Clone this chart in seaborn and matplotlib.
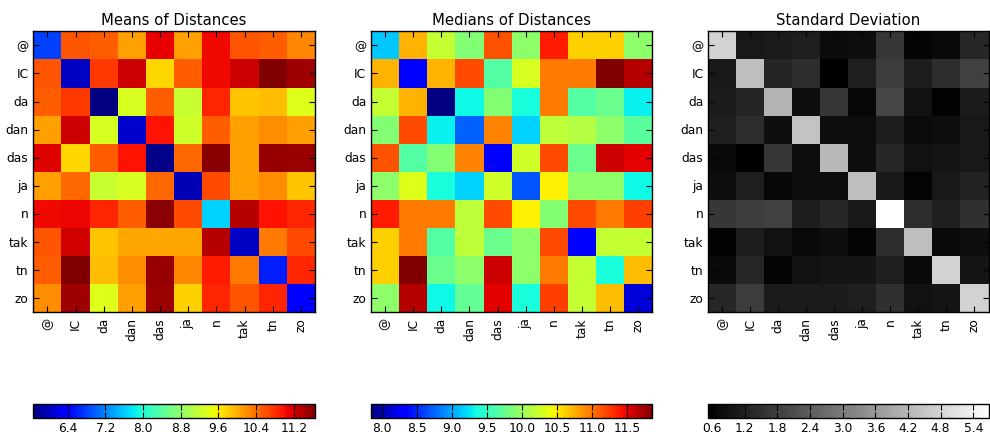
import numpy as np
import matplotlib
matplotlib.use("Agg")
import matplotlib.pyplot as plt
import seaborn as sns
import pandas as pd

labels = ["@", "IC", "da", "dan", "das", "ja", "n", "tak", "tn", "zo"]

means = [
    [6.81, 10.57, 10.51, 10.10, 11.11, 10.10, 11.05, 10.57, 10.51, 10.27],
    [10.57, 6.03, 10.75, 11.23, 9.74, 10.51, 11.05, 11.23, 11.65, 11.47],
    [10.51, 10.75, 5.67, 9.32, 10.51, 9.20, 10.87, 9.86, 9.92, 9.38],
    [10.10, 11.23, 9.32, 6.09, 10.99, 9.26, 10.51, 10.10, 10.21, 10.10],
    [11.15, 9.74, 10.51, 10.99, 5.73, 10.45, 11.59, 10.10, 11.53, 11.50],
    [10.10, 10.45, 9.20, 9.32, 10.45, 5.97, 10.63, 10.10, 10.21, 9.86],
    [11.05, 11.08, 10.87, 10.51, 11.59, 10.63, 7.64, 11.35, 10.99, 10.87],
    [10.57, 11.22, 9.86, 10.04, 10.04, 10.04, 11.35, 6.03, 10.33, 10.63],
    [10.51, 11.65, 9.92, 10.21, 11.53, 10.27, 10.93, 10.33, 6.60, 10.87],
    [10.21, 11.47, 9.38, 10.10, 11.50, 9.80, 10.87, 10.57, 10.87, 6.33],
]

medians = [
    [9.13, 10.73, 10.21, 9.89, 11.14, 9.93, 11.38, 10.61, 10.61, 9.93],
    [10.73, 8.32, 10.73, 11.18, 9.65, 10.29, 10.98, 10.98, 11.86, 11.66],
    [10.21, 10.73, 7.84, 9.33, 9.89, 9.37, 10.98, 9.65, 9.77, 9.29],
    [9.89, 11.18, 9.29, 8.72, 10.94, 9.17, 10.17, 10.13, 9.93, 9.69],
    [11.14, 9.65, 9.89, 10.94, 8.32, 10.25, 11.18, 9.77, 11.58, 11.50],
    [9.93, 10.33, 9.37, 9.17, 10.25, 8.68, 10.47, 9.93, 9.93, 9.33],
    [11.38, 10.98, 10.98, 10.17, 11.18, 10.47, 9.89, 11.18, 10.98, 11.22],
    [10.61, 10.98, 9.65, 10.17, 9.77, 9.93, 11.18, 8.32, 10.21, 10.21],
    [10.61, 11.86, 9.77, 9.93, 11.58, 9.93, 10.98, 10.21, 9.37, 10.69],
    [9.93, 11.66, 9.33, 9.73, 11.50, 9.37, 11.22, 10.21, 10.69, 8.16],
]

stds = [
    [4.77, 1.03, 1.09, 1.17, 0.77, 0.83, 1.64, 0.63, 0.73, 1.33],
    [1.03, 4.36, 1.29, 1.44, 0.53, 1.17, 1.74, 1.13, 1.44, 1.84],
    [1.09, 1.29, 4.16, 0.83, 1.64, 0.69, 1.94, 0.89, 0.59, 1.09],
    [1.17, 1.44, 0.83, 4.46, 0.83, 0.83, 1.13, 0.77, 0.83, 1.03],
    [0.73, 0.53, 1.64, 0.83, 4.26, 0.83, 1.33, 0.89, 0.97, 1.03],
    [0.83, 1.17, 0.69, 0.83, 0.83, 4.36, 1.03, 0.63, 1.03, 1.23],
    [1.64, 1.74, 1.84, 1.13, 1.33, 1.03, 5.68, 1.44, 1.17, 1.50],
    [0.59, 1.13, 0.89, 0.73, 0.83, 0.63, 1.44, 4.36, 0.73, 0.83],
    [0.73, 1.33, 0.63, 0.89, 0.97, 0.97, 1.17, 0.73, 4.77, 0.97],
    [1.33, 1.74, 1.09, 1.09, 1.09, 1.17, 1.50, 0.89, 0.97, 4.77],
]

titles = ["Means of Distances", "Medians of Distances", "Standard Deviation"]
mean_ticks = [6.4, 7.2, 8.0, 8.8, 9.6, 10.4, 11.2]
median_ticks = [8.0, 8.5, 9.0, 9.5, 10.0, 10.5, 11.0, 11.5]
std_ticks = [0.6, 1.2, 1.8, 2.4, 3.0, 3.6, 4.2, 4.8, 5.4]

plt.rcParams.update({
    "font.family": ["DejaVu Sans"],
    "font.size": 8.8,
    "axes.titlesize": 10.7,
})

W, H = 990.0, 435.0
fig = plt.figure(figsize=(W / 100, H / 100), dpi=100)

panels = [
    (means, "jet", mean_ticks, "{:.1f}", 33.3, 315.0),
    (medians, "jet", median_ticks, "{:.1f}", 371.0, 652.3),
    (stds, "gray", std_ticks, "{:.1f}", 708.3, 988.5),
]

ax_top, ax_bot = 32.3, 313.3
cb_top, cb_bot = 405.0, 419.3

for (data, cmap, ticks, fmt, x0, x1), title in zip(panels, titles):
    ax = fig.add_axes([x0 / W, (H - ax_bot) / H, (x1 - x0) / W, (ax_bot - ax_top) / H])
    cax = fig.add_axes([x0 / W, (H - cb_bot) / H, (x1 - x0) / W, (cb_bot - cb_top) / H])
    df = pd.DataFrame(data, index=labels, columns=labels)
    sns.heatmap(df, ax=ax, cmap=cmap, cbar=True, cbar_ax=cax,
                cbar_kws={"orientation": "horizontal", "ticks": ticks},
                linewidths=0, xticklabels=labels, yticklabels=labels)
    for s in ax.spines.values():
        s.set_visible(True)
        s.set_linewidth(1.0)
        s.set_color("black")
    ax.tick_params(direction="in", length=4, width=0.8, top=True, right=True,
                   labeltop=False, labelright=False, colors="black", labelsize=8.8)
    ax.set_xticklabels(labels, rotation=90)
    ax.set_yticklabels(labels, rotation=0)
    ax.set_xlabel("")
    ax.set_ylabel("")
    ax.set_title(title, pad=5)
    cb = ax.collections[0].colorbar
    cb.outline.set_visible(True)
    cb.outline.set_linewidth(1.0)
    cb.outline.set_edgecolor("black")
    cb.set_ticks(ticks)
    cb.set_ticklabels([fmt.format(t) for t in ticks])
    cax.tick_params(direction="in", length=4, width=0.8, top=True, bottom=True,
                    labeltop=False, labelbottom=True, labelsize=8.8, colors="black",
                    pad=2)

fig.savefig("out.png", dpi=100)
